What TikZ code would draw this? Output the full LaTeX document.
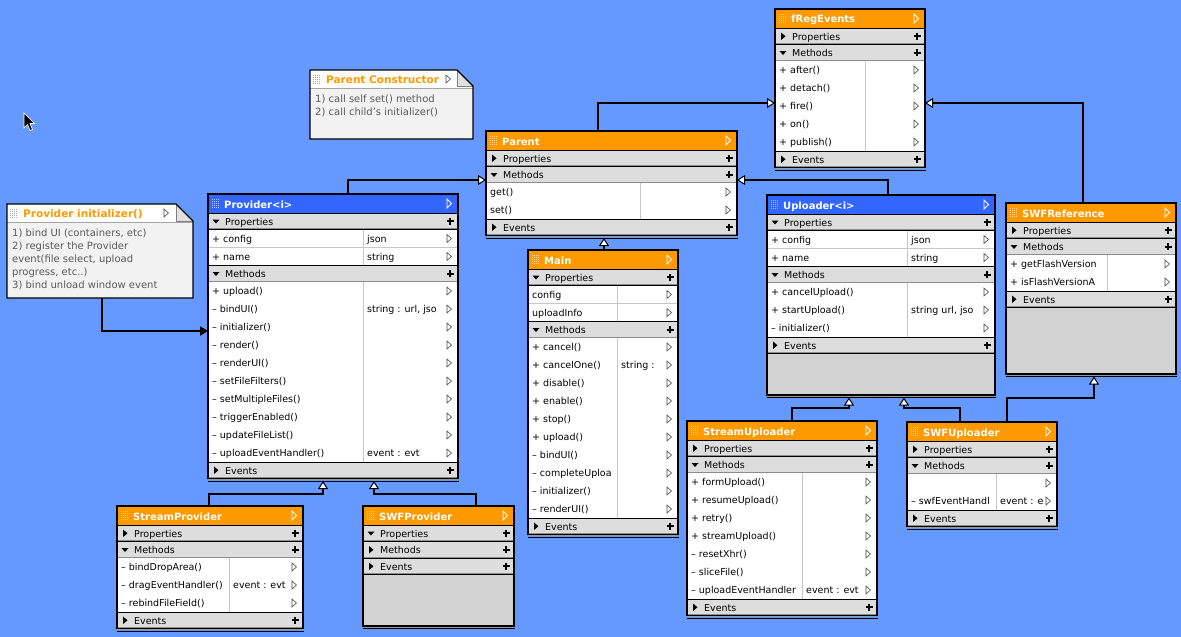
\documentclass[tikz,border=0pt]{standalone}
\usepackage{fontspec}
\setmainfont{DejaVu Sans}
\usetikzlibrary{arrows.meta}
\definecolor{bgblue}{HTML}{6699FF}
\definecolor{hdorange}{HTML}{FF9900}
\definecolor{hdblue}{HTML}{3366FF}
\definecolor{secgray}{HTML}{DDDDDD}
\definecolor{fillgray}{HTML}{D2D2D2}
\definecolor{notebg}{HTML}{F2F2F2}
\definecolor{notetext}{HTML}{5A5A5A}
\tikzset{
  rowtxt/.style={font=\fontsize{9.5}{10}\selectfont, inner sep=0, anchor=base west, text=black},
  headtxt/.style={font=\bfseries\fontsize{10}{11}\selectfont, text=white, inner sep=0, anchor=base west},
  notetxt/.style={font=\fontsize{10}{11}\selectfont, inner sep=0, anchor=base west, text=notetext},
  rowline/.style={draw=black!22, line width=0.8},
  boxframe/.style={draw=black, line width=1.3, inner sep=0, outer sep=0},
  noteframe/.style={inner sep=0, outer sep=0},
  inh/.style={draw=black, line width=2.5, -{Triangle[length=8pt,width=10pt,fill=white,line width=1pt]}},
  dep/.style={draw=black, line width=2.5, -{Triangle[length=8pt,width=9pt]}},
}
\newcommand\uhead[6]{%
  \xdef\uL{#1}\xdef\uT{#2}\xdef\uR{#3}\xdef\uC{#4}%
  \fill[#5] (#1,#2) rectangle (#3,#2+19);
  \foreach \i in {0,...,3}{\foreach \j in {0,...,4}{\fill[white,opacity=0.6] (#1+4+2*\i,#2+5+2*\j) rectangle ++(1,1);}}%
  \node[headtxt] at (#1+16,#2+14) {#6};
  \draw[white,line width=0.8] (#3-11,#2+5) -- (#3-6.5,#2+9.5) -- (#3-11,#2+14) -- cycle;
  \pgfmathsetmacro\utmp{#2+19}\xdef\uY{\utmp}%
}
\newcommand\usec[2]{%
  \fill[secgray] (\uL,\uY) rectangle (\uR,\uY+16.5);
  \draw[black!45, line width=0.8] (\uL,\uY+15.4) -- (\uR,\uY+15.4);
  \draw[black, line width=1] (\uL,\uY) -- (\uR,\uY) (\uL,\uY+16.5) -- (\uR,\uY+16.5);
  \ifx o#1
    \fill (\uL+4.5,\uY+6.5) -- (\uL+11.5,\uY+6.5) -- (\uL+8,\uY+10.5) -- cycle;
  \else
    \fill (\uL+6,\uY+4.5) -- (\uL+10.5,\uY+8.25) -- (\uL+6,\uY+12) -- cycle;
  \fi
  \node[rowtxt] at (\uL+17,\uY+12) {#2};
  \draw[line width=1.7] (\uR-11.5,\uY+8.25) -- (\uR-4.5,\uY+8.25) (\uR-8,\uY+4.75) -- (\uR-8,\uY+11.75);
  \pgfmathsetmacro\utmp{\uY+16.5}\xdef\uY{\utmp}%
}
\newcommand\urow[2]{%
  \fill[white] (\uL,\uY) rectangle (\uR,\uY+18);
  \draw[rowline] (\uL,\uY+18) -- (\uR,\uY+18) (\uC,\uY) -- (\uC,\uY+18);
  \begin{scope}\clip (\uL,\uY) rectangle (\uC-1,\uY+18); \node[rowtxt] at (\uL+4,\uY+12.5) {#1};\end{scope}
  \begin{scope}\clip (\uC,\uY) rectangle (\uR-10,\uY+18); \node[rowtxt] at (\uC+4,\uY+12.5) {#2};\end{scope}
  \draw[black!70, fill=white, line width=0.6] (\uR-11,\uY+5) -- (\uR-6.5,\uY+9) -- (\uR-11,\uY+13) -- cycle;
  \pgfmathsetmacro\utmp{\uY+18}\xdef\uY{\utmp}%
}
\newcommand\ufill[1]{%
  \fill[fillgray] (\uL,\uY) rectangle (\uR,#1);
  \xdef\uY{#1}%
}
\newcommand\uend[1]{%
  \pgfmathsetmacro\uW{\uR-\uL}\pgfmathsetmacro\uH{\uY-\uT}%
  \draw[black,line width=1] (\uL,\uY+2.5) -- (\uR+0.6,\uY+2.5);
  \draw[black!40,line width=1.2] (\uL+0.6,\uY+1.3) -- (\uR-0.6,\uY+1.3);
  \node[boxframe, minimum width=\uW pt, minimum height=\uH pt, anchor=north west] (#1) at (\uL,\uT) {};
}
\begin{document}
\begin{tikzpicture}[x=1pt,y=-1pt]
\useasboundingbox (0,0) rectangle (1181,637);
\fill[bgblue] (0,0) rectangle (1181,637);

% mouse cursor
\filldraw[fill=black, draw=white, line width=0.7] (24,113) -- (24,128) -- (27.5,124.5) -- (30,130.5) -- (32.5,129.5) -- (30,123.5) -- (34.5,123.5) -- cycle;

% ---------- Parent Constructor note
\node[noteframe, minimum width=163pt, minimum height=69pt, anchor=north west] (pnote) at (310,70) {};
\fill[notebg] (310,70) -- (457,70) -- (473,86) -- (473,139) -- (310,139) -- cycle;
\fill[white] (310,70) -- (457,70) -- (473,86) -- (473,88) -- (310,88) -- cycle;
\draw[black!35, line width=0.8] (310,88) -- (473,88);
\foreach \i in {0,...,3}{\foreach \j in {0,...,4}{\fill[black!35] (313+2*\i,75+2*\j) rectangle ++(1,1);}}
\begin{scope}\clip (310,70) rectangle (441,88); \node[headtxt, text=hdorange, font=\bfseries\fontsize{10.5}{11}\selectfont] at (326,83) {Parent Constructor};\end{scope}
\draw[black!70, fill=white, line width=0.6] (446,75) -- (450.5,79) -- (446,83) -- cycle;
\fill[black!12] (457,70) -- (457,86) -- (473,86) -- cycle;
\draw[black!50, line width=0.8] (457,70) -- (457,86) -- (473,86);
\draw[black, line width=1.3] (310,70) -- (457,70) -- (473,86) -- (473,139) -- (310,139) -- cycle;
\node[notetxt] at (315,102) {1) call self set() method};
\node[notetxt] at (315,115) {2) call child's initializer()};

% ---------- Provider initializer note
\node[noteframe, minimum width=186pt, minimum height=94pt, anchor=north west] (inote) at (7,204) {};
\fill[notebg] (7,204) -- (176,204) -- (193,221) -- (193,298) -- (7,298) -- cycle;
\fill[white] (7,204) -- (176,204) -- (193,221) -- (193,222) -- (7,222) -- cycle;
\draw[black!35, line width=0.8] (7,222) -- (193,222);
\foreach \i in {0,...,3}{\foreach \j in {0,...,4}{\fill[black!35] (10+2*\i,209+2*\j) rectangle ++(1,1);}}
\node[headtxt, text=hdorange, font=\bfseries\fontsize{10.5}{11}\selectfont] at (23,217) {Provider initializer()};
\draw[black!70, fill=white, line width=0.6] (164,209) -- (168.5,213) -- (164,217) -- cycle;
\fill[black!12] (176,204) -- (176,221) -- (193,221) -- cycle;
\draw[black!50, line width=0.8] (176,204) -- (176,221) -- (193,221);
\draw[black, line width=1.3] (7,204) -- (176,204) -- (193,221) -- (193,298) -- (7,298) -- cycle;
\node[notetxt] at (12,236) {1) bind UI (containers, etc)};
\node[notetxt] at (12,249) {2) register the Provider};
\node[notetxt] at (12,262) {event(file select, upload};
\node[notetxt] at (12,275) {progress, etc..)};
\node[notetxt] at (12,288) {3) bind unload window event};

% ---------- fRegEvents
\uhead{775}{9}{925}{865}{hdorange}{fRegEvents}
\usec{c}{Properties}
\usec{o}{Methods}
\urow{+ after()}{}
\urow{+ detach()}{}
\urow{+ fire()}{}
\urow{+ on()}{}
\urow{+ publish()}{}
\usec{c}{Events}
\uend{freg}

% ---------- Parent
\uhead{486}{131}{737}{640}{hdorange}{Parent}
\usec{c}{Properties}
\usec{o}{Methods}
\urow{get()}{}
\urow{set()}{}
\usec{c}{Events}
\uend{parent}

% ---------- Provider<i>
\uhead{208}{194}{458}{363}{hdblue}{Provider<i>}
\usec{o}{Properties}
\urow{+ config}{json}
\urow{+ name}{string}
\usec{o}{Methods}
\urow{+ upload()}{}
\urow{– bindUI()}{string : url, jso}
\urow{– initializer()}{}
\urow{– render()}{}
\urow{– renderUI()}{}
\urow{– setFileFilters()}{}
\urow{– setMultipleFiles()}{}
\urow{– triggerEnabled()}{}
\urow{– updateFileList()}{}
\urow{– uploadEventHandler()}{event : evt}
\usec{c}{Events}
\uend{prov}

% ---------- Main
\uhead{528}{250}{678}{617}{hdorange}{Main}
\usec{o}{Properties}
\urow{config}{}
\urow{uploadInfo}{}
\usec{o}{Methods}
\urow{+ cancel()}{}
\urow{+ cancelOne()}{string :}
\urow{+ disable()}{}
\urow{+ enable()}{}
\urow{+ stop()}{}
\urow{+ upload()}{}
\urow{– bindUI()}{}
\urow{– completeUploa}{}
\urow{– initializer()}{}
\urow{– renderUI()}{}
\usec{c}{Events}
\uend{main}

% ---------- Uploader<i>
\uhead{767}{195}{995}{907}{hdblue}{Uploader<i>}
\usec{o}{Properties}
\urow{+ config}{json}
\urow{+ name}{string}
\usec{o}{Methods}
\urow{+ cancelUpload()}{}
\urow{+ startUpload()}{string url, jso}
\urow{– initializer()}{}
\usec{c}{Events}
\ufill{395}
\uend{upl}

% ---------- SWFReference
\uhead{1006}{203}{1176}{1107}{hdorange}{SWFReference}
\usec{c}{Properties}
\usec{o}{Methods}
\urow{+ getFlashVersion}{}
\urow{+ isFlashVersionA}{}
\usec{c}{Events}
\ufill{374}
\uend{swfref}

% ---------- StreamProvider
\uhead{117}{506}{303}{229}{hdorange}{StreamProvider}
\usec{c}{Properties}
\usec{o}{Methods}
\urow{– bindDropArea()}{}
\urow{– dragEventHandler()}{event : evt}
\urow{– rebindFileField()}{}
\usec{c}{Events}
\uend{sprov}

% ---------- SWFProvider
\uhead{363}{506}{514}{440}{hdorange}{SWFProvider}
\usec{o}{Properties}
\usec{c}{Methods}
\usec{c}{Events}
\ufill{626}
\uend{swfprov}

% ---------- StreamUploader
\uhead{687}{421}{877}{802}{hdorange}{StreamUploader}
\usec{c}{Properties}
\usec{o}{Methods}
\urow{+ formUpload()}{}
\urow{+ resumeUpload()}{}
\urow{+ retry()}{}
\urow{+ streamUpload()}{}
\urow{– resetXhr()}{}
\urow{– sliceFile()}{}
\urow{– uploadEventHandler}{event : evt}
\usec{c}{Events}
\uend{supl}

% ---------- SWFUploader
\uhead{907}{422}{1057}{996}{hdorange}{SWFUploader}
\usec{c}{Properties}
\usec{o}{Methods}
\urow{}{}
\urow{– swfEventHandl}{event : e}
\usec{c}{Events}
\uend{swfupl}

% ---------- connectors
\draw[inh] ([xshift=112pt]parent.north west) |- ([yshift=-94pt]freg.north west);
\draw[inh] ([xshift=77pt]swfref.north west) |- ([yshift=-94pt]freg.north east);
\draw[inh] ([xshift=140pt]prov.north west) |- ([yshift=-49pt]parent.north west);
\draw[inh] ([xshift=121pt]upl.north west) |- ([yshift=-49pt]parent.north east);
\draw[inh] ([xshift=76pt]main.north west) -- ([xshift=118pt,yshift=-2.5pt]parent.south west);
\draw[inh] ([xshift=92pt]sprov.north west) -- ++(0,-12) -| ([xshift=115pt,yshift=-2.5pt]prov.south west);
\draw[inh] ([xshift=113pt]swfprov.north west) -- ++(0,-12) -| ([xshift=166pt,yshift=-2.5pt]prov.south west);
\draw[inh] ([xshift=105pt]supl.north west) -- ++(0,-13) -| ([xshift=82pt,yshift=-2.5pt]upl.south west);
\draw[inh] ([xshift=53pt]swfupl.north west) -- ++(0,-14) -| ([xshift=137pt,yshift=-2.5pt]upl.south west);
\draw[inh] ([xshift=100pt]swfupl.north west) -- ++(0,-24) -| ([xshift=88pt,yshift=-2.5pt]swfref.south west);
\draw[dep] ([xshift=95pt]inote.south west) |- ([yshift=-137pt]prov.north west);
\end{tikzpicture}
\end{document}
